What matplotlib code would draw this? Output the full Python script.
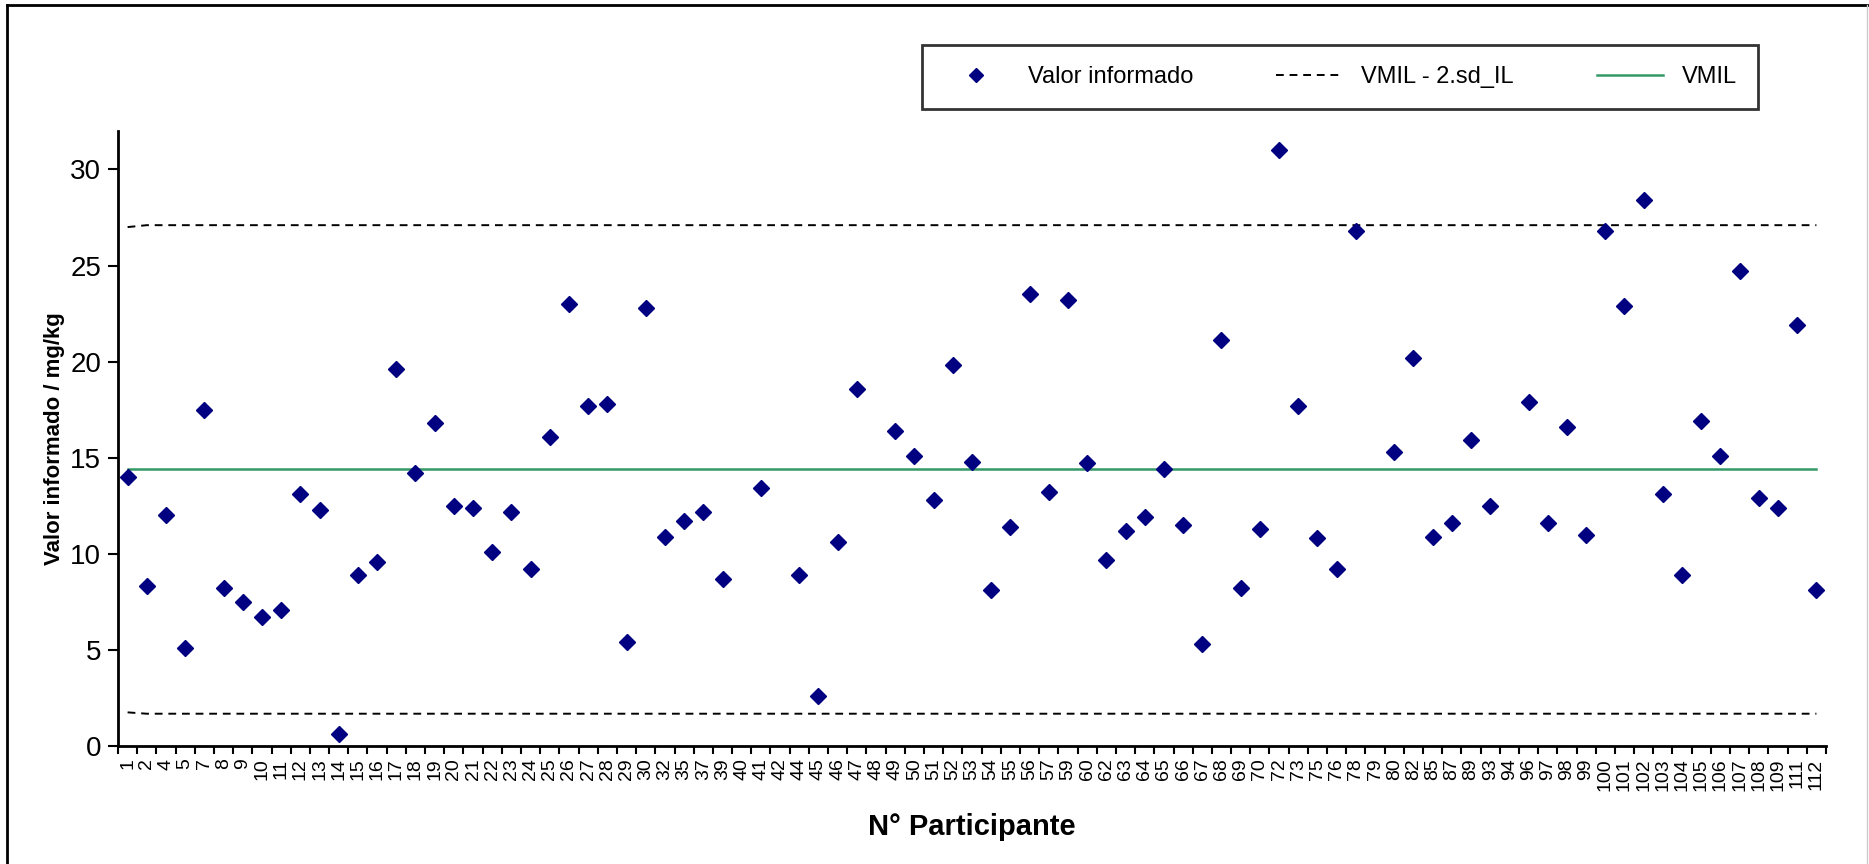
import numpy as np
import matplotlib
matplotlib.use("Agg")
import matplotlib.pyplot as plt
from matplotlib.lines import Line2D

plt.rcParams['font.family'] = ['Liberation Sans', 'DejaVu Sans']

# participant codes along the x axis (categorical)
participants = [1, 2, 4, 5, 7, 8, 9, 10, 11, 12, 13, 14, 15, 16, 17, 18, 19, 20,
                21, 22, 23, 24, 25, 26, 27, 28, 29, 30, 32, 35, 37, 39, 40, 41,
                42, 44, 45, 46, 47, 48, 49, 50, 51, 52, 53, 54, 55, 56, 57, 59,
                60, 62, 63, 64, 65, 66, 67, 68, 69, 70, 72, 73, 75, 76, 78, 79,
                80, 82, 85, 87, 89, 93, 94, 96, 97, 98, 99, 100, 101, 102, 103,
                104, 105, 106, 107, 108, 109, 111, 112]

# reported values (mg/kg); None = no result reported
reported = [14.0, 8.3, 12.0, 5.1, 17.5, 8.2, 7.5, 6.7, 7.1, 13.1, 12.3, 0.6,
            8.9, 9.6, 19.6, 14.2, 16.8, 12.5, 12.4, 10.1, 12.2, 9.2, 16.1, 23.0,
            17.7, 17.8, 5.4, 22.8, 10.9, 11.7, 12.2, 8.7, None, 13.4,
            None, 8.9, 2.6, 10.6, 18.6, None, 16.4, 15.1, 12.8, 19.8, 14.8, 8.1,
            11.4, 23.5, 13.2, 23.2,
            14.7, 9.7, 11.2, 11.9, 14.4, 11.5, 5.3, 21.1, 8.2, 11.3, 31.0, 17.7,
            10.8, 9.2, 26.8, None,
            15.3, 20.2, 10.9, 11.6, 15.9, 12.5, None, 17.9, 11.6, 16.6, 11.0,
            26.8, 22.9, 28.4, 13.1,
            8.9, 16.9, 15.1, 24.7, 12.9, 12.4, 21.9, 8.1]

vmil = 14.4
upper_first, upper = 27.0, 27.1
lower_first, lower = 1.75, 1.68

n = len(participants)
x = np.arange(n)
y = np.array([np.nan if v is None else v for v in reported], dtype=float)

upper_line = np.full(n, upper)
upper_line[0] = upper_first
lower_line = np.full(n, lower)
lower_line[0] = lower_first

fig = plt.figure(figsize=(18.69, 8.64), dpi=100)
ax = fig.add_axes([118 / 1869, 1 - 746 / 864, (1826 - 118) / 1869, (746 - 131) / 864])

ax.plot(x, upper_line, color='black', linestyle=(0, (4, 3)), linewidth=1.4)
ax.plot(x, lower_line, color='black', linestyle=(0, (4, 3)), linewidth=1.4)
ax.plot(x, np.full(n, vmil), color='#339966', linewidth=1.8)
ax.plot(x, y, linestyle='none', marker='D', markersize=8.5,
        color='#000080', markeredgecolor='#000080')

ax.set_xlim(-0.5, n - 0.5)
ax.set_ylim(0, 32)
ax.set_yticks([0, 5, 10, 15, 20, 25, 30])
ax.tick_params(axis='y', direction='out', length=7, width=1.5, labelsize=20, pad=5)

# tick marks between categories, labels centred on them
ax.set_xticks(np.arange(-0.5, n, 1.0))
ax.set_xticklabels([])
ax.tick_params(axis='x', which='major', direction='out', length=6, width=1.5)
ax.set_xticks(x, minor=True)
ax.set_xticklabels([str(p) for p in participants], minor=True, rotation=90)
ax.tick_params(axis='x', which='minor', length=0, labelsize=14, pad=9)

for side in ['top', 'right']:
    ax.spines[side].set_visible(False)
for side in ['left', 'bottom']:
    ax.spines[side].set_linewidth(2)

ax.set_ylabel('Valor informado / mg/kg', fontsize=16, fontweight='bold', labelpad=4)
ax.set_xlabel('N° Participante', fontsize=21, fontweight='bold', labelpad=16)

handles = [
    Line2D([], [], linestyle='none', marker='D', markersize=7,
           color='#000080'),
    Line2D([], [], color='black', linestyle=(0, (4, 3)), linewidth=1.4),
    Line2D([], [], color='#339966', linewidth=1.8),
]
labels = ['Valor informado', 'VMIL - 2.sd_IL', 'VMIL']
leg = fig.legend(handles, labels, ncol=3, loc='center',
                 bbox_to_anchor=(1340 / 1869, 1 - 77 / 864),
                 frameon=True, fancybox=False, edgecolor='black',
                 prop={'size': 17},
                 handlelength=2.8, columnspacing=3.5, borderpad=0.9, handletextpad=0.8)
leg.get_frame().set_linewidth(2)
leg.get_frame().set_boxstyle('square', pad=0)

# chart area border
fig.add_artist(Line2D([7 / 1869, 7 / 1869], [0, 1 - 5 / 864], transform=fig.transFigure,
                      color='black', linewidth=2))
fig.add_artist(Line2D([7 / 1869, 1], [1 - 5 / 864, 1 - 5 / 864], transform=fig.transFigure,
                      color='black', linewidth=2))
fig.add_artist(Line2D([1867 / 1869, 1867 / 1869], [0, 1 - 5 / 864], transform=fig.transFigure,
                      color='#cccccc', linewidth=1))

fig.savefig('out.png', dpi=100)
